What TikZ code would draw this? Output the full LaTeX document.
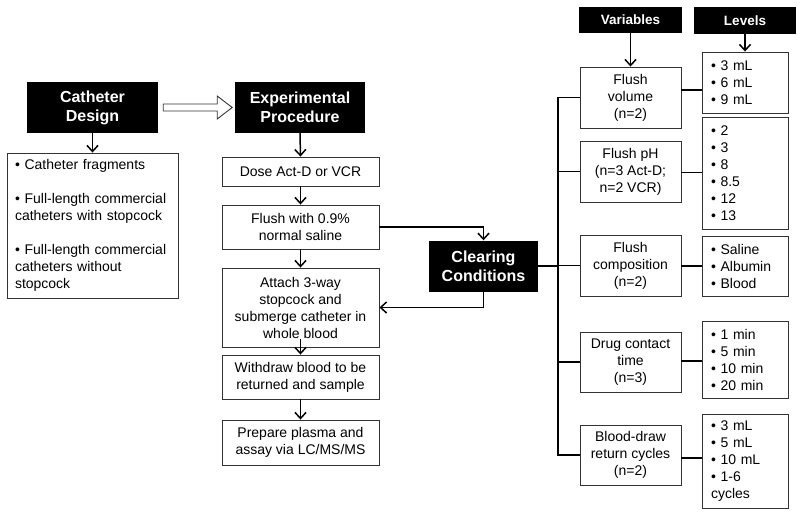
\documentclass[tikz,border=0pt]{standalone}
\usepackage{fontspec}
\setmainfont{Liberation Sans}
\usetikzlibrary{arrows.meta,calc}
\begin{document}
\begin{tikzpicture}[x=1pt,y=-1pt,
  hdr/.style={fill=black, text=white, font=\bfseries\fontsize{16}{19}\selectfont, align=center, inner sep=0pt},
  smhdr/.style={hdr, font=\bfseries\fontsize{13.5}{16}\selectfont},
  box/.style={draw=black!80, line width=0.9pt, fill=white, font=\fontsize{14}{17}\selectfont, align=center, inner sep=0pt},
  lbox/.style={box, align=left, inner xsep=9pt},
  conn/.style={line width=1.5pt, black},
  arr/.style={conn, -{Straight Barb[length=6pt,width=11pt,line width=1.5pt]}}
]
\useasboundingbox (0,0) rectangle (800,516);

% headers
\node[hdr, minimum width=131pt, minimum height=51pt] (cd) at (92.5,107.5) {Catheter\\Design};
\node[hdr, minimum width=130pt, minimum height=51pt] (ep) at (300,107.5) {Experimental\\Procedure};
\node[hdr, minimum width=109pt, minimum height=51pt] (cc) at (483.5,266) {Clearing\\Conditions};
\node[smhdr, minimum width=103pt, minimum height=26pt] (vh) at (630.5,20) {Variables};
\node[smhdr, minimum width=102pt, minimum height=27pt] (lh) at (745,20.5) {Levels};

% catheter list
\node[lbox, text width=155pt, inner xsep=8pt, minimum height=145pt] (cl) at (92.5,225.5)
  {• Catheter fragments\\[17pt]• Full-length commercial\\catheters with stopcock\\[17pt]• Full-length commercial\\catheters without\\stopcock};

% procedure column
\node[box, minimum width=157pt, minimum height=29pt] (dose) at (300.5,171.5) {Dose Act-D or VCR};
\node[box, minimum width=157pt, minimum height=44pt] (fl) at (300.5,227) {Flush with 0.9\%\\normal saline};
\node[box, minimum width=157pt, minimum height=79pt] (at) at (300.5,307.5) {Attach 3-way\\stopcock and\\submerge catheter in\\whole blood};
\node[box, minimum width=157pt, minimum height=44pt] (wd) at (300.5,377) {Withdraw blood to be\\returned and sample};
\node[box, minimum width=157pt, minimum height=45pt] (pp) at (300.5,442.5) {Prepare plasma and\\assay via LC/MS/MS};

% variables
\node[box, minimum width=101pt, minimum height=61pt] (fv) at (630.5,97.5) {Flush\\volume\\(n=2)};
\node[box, minimum width=101pt, minimum height=61pt] (fp) at (630.5,171.5) {Flush pH\\(n=3 Act-D;\\n=2 VCR)};
\node[box, minimum width=101pt, minimum height=61pt] (fc) at (630.5,265.5) {Flush\\composition\\(n=2)};
\node[box, minimum width=101pt, minimum height=60pt] (dc) at (630.5,362) {Drug contact\\time\\(n=3)};
\node[box, minimum width=101pt, minimum height=60pt] (bd) at (630.5,455) {Blood-draw\\return cycles\\(n=2)};

% levels
\node[lbox, text width=68pt, minimum height=61pt] (l1) at (745,82.5) {• 3 mL\\• 6 mL\\• 9 mL};
\node[lbox, text width=68pt, minimum height=112pt] (l2) at (745,173) {• 2\\• 3\\• 8\\• 8.5\\• 12\\• 13};
\node[lbox, text width=68pt, minimum height=60pt] (l3) at (745,266) {• Saline\\• Albumin\\• Blood};
\node[lbox, text width=68pt, minimum height=77pt] (l4) at (745,359.5) {• 1 min\\• 5 min\\• 10 min\\• 20 min};
\node[lbox, text width=68pt, minimum height=94pt] (l5) at (745,461) {• 3 mL\\• 5 mL\\• 10 mL\\• 1-6\\cycles};

% hollow arrow between headers
\draw[line width=0.9pt, black!80] ($(cd.east)+(5,-3.5)$) -- ++(54,0) -- ++(0,-8) -- ++(15,11.5)
  -- ++(-15,11.5) -- ++(0,-8) -- ++(-54,0) -- cycle;

% connectors
\draw[arr] (cd.south) -- (cl.north);
\draw[arr] (ep.south) -- (dose.north);
\draw[arr] (dose.south) -- (fl.north);
\draw[arr] (fl.south) -- (at.north);
\draw[arr] ($(at.south)+(0,-8)$) -- (wd.north);
\draw[arr] (wd.south) -- (pp.north);
\draw[arr] (fl.east) -| (cc.north);
\draw[arr] (cc.south) |- (at.east);

\coordinate (bus) at (558,0);
\draw[conn] (fv.west) -| (bus |- bd.west) -- (bd.west);
\draw[conn] (fp.west) -- (fp.west -| bus);
\draw[conn] (fc.west) -- (fc.west -| bus);
\draw[conn] (dc.west) -- (dc.west -| bus);
\draw[conn] (cc.east) -- (cc.east -| bus);

\draw[arr] (vh.south) -- (fv.north);
\draw[arr] (lh.south) -- (l1.north);

\foreach \v/\l in {fv/l1, fp/l2, fc/l3, dc/l4, bd/l5}{
  \coordinate (m) at ($(\v.east)!0.5!(\l.west)$);
  \draw[conn] (\v.east |- m) -- (\l.west |- m);
}
\end{tikzpicture}
\end{document}
